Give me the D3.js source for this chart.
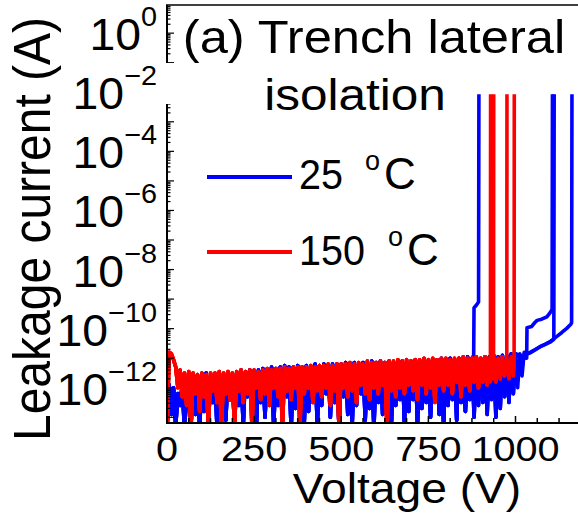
<!DOCTYPE html>
<html><head><meta charset="utf-8">
<script src="https://cdn.jsdelivr.net/npm/d3@7"></script>
<style>html,body{margin:0;padding:0;background:#fff;}svg{display:block;}</style>
</head><body>
<script>
// ---------- DATA (log10 of leakage current in A) ----------
const noiseStep = 6.25; // V between readings in the noise-floor part of each sweep
// 25 °C noise floor readings from 0 V
const blueNoise = [
 -13.4,-11.9,-12.9,-12.0,-13.3,-12.2,-12.6,-11.9,-13.4,-12.3,-11.8,-13.3,-11.7,-12.9,-11.6,-13.4,
 -11.6,-12.8,-11.5,-13.2,-11.7,-12.5,-11.6,-13.4,-11.5,-12.7,-11.6,-13.1,-11.5,-12.4,-11.6,-13.3,
 -11.5,-12.6,-11.4,-13.3,-11.5,-12.3,-11.4,-12.9,-11.45,-13.4,-11.4,-12.5,-11.35,-13.0,-11.4,-12.4,
 -11.3,-13.3,-11.35,-12.6,-11.3,-12.9,-11.25,-12.3,-11.3,-13.4,-11.3,-12.7,-11.25,-12.2,-11.3,-13.2,
 -11.25,-12.8,-11.3,-12.4,-11.2,-13.3,-11.25,-12.6,-11.2,-12.2,-11.25,-13.0,-11.2,-12.5,-11.2,-13.4,
 -11.2,-12.3,-11.15,-12.9,-11.2,-13.3,-11.15,-12.6,-11.2,-12.2,-11.15,-13.1,-11.2,-12.7,-11.1,-13.4,
 -11.15,-12.5,-11.1,-12.9,-11.15,-12.3,-11.1,-13.3,-11.15,-12.6,-11.1,-12.4,-11.1,-13.2,-11.15,-12.8,
 -11.1,-12.4,-11.05,-13.3,-11.1,-12.7,-11.05,-12.5,-11.1,-13.0,-11.05,-12.3,-11.05,-12.9,-11.0,-13.3,
 -11.05,-12.6,-11.0,-12.4,-11.05,-13.1,-11.0,-12.5,-11.0,-12.8,-10.95,-12.4,-11.0,-13.0,-10.95,-12.6,
 -11.0,-12.5,-10.95,-12.9,-10.95,-12.4,-10.9,-13.0,-10.95,-12.7,-10.9,-12.3,-10.9,-12.5,-10.85,-12.2,
 -10.85,-12.0,-10.85,-11.6,-10.8
];
// 150 °C noise floor readings from 0 V
const redNoise = [
 -13.5,-10.8,-10.85,-11.05,-11.3,-12.0,-11.4,-12.3,-11.5,-12.6,-11.45,-13.4,-11.5,-12.2,-11.55,-12.8,
 -11.5,-12.3,-11.55,-13.4,-11.5,-12.1,-11.5,-12.5,-11.45,-13.3,-11.5,-12.2,-11.45,-12.4,-11.5,-13.4,
 -11.45,-12.1,-11.4,-12.5,-11.45,-12.2,-11.4,-13.3,-11.4,-12.0,-11.45,-12.4,-11.4,-12.2,-11.35,-12.6,
 -11.4,-12.0,-11.35,-12.3,-11.35,-13.4,-11.3,-12.1,-11.35,-12.4,-11.3,-12.0,-11.3,-13.3,-11.3,-12.2,
 -11.3,-12.0,-11.25,-12.5,-11.3,-12.1,-11.25,-12.3,-11.25,-12.0,-11.2,-12.6,-11.25,-12.1,-11.2,-13.4,
 -11.2,-12.0,-11.2,-12.3,-11.15,-12.1,-11.2,-12.5,-11.15,-11.9,-11.2,-12.2,-11.1,-12.4,-11.15,-12.0,
 -11.15,-12.2,-11.1,-11.9,-11.15,-13.4,-11.1,-12.1,-11.1,-12.3,-11.05,-12.0,-11.1,-12.2,-11.05,-11.9,
 -11.1,-12.1,-11.05,-12.4,-11.05,-11.9,-11.0,-12.2,-11.05,-12.0,-11.0,-12.5,-11.05,-11.9,-11.0,-12.1,
 -11.0,-11.9,-11.05,-12.2,-11.0,-11.8,-11.0,-12.3,-10.95,-11.9,-11.0,-12.1,-11.0,-11.8,-10.95,-12.0,
 -11.0,-11.8,-10.95,-11.9,-11.0,-11.7,-10.95,-11.8,-11.0,-11.7,-10.95,-11.6,-11.0,-11.7,-10.95,-11.6
];
// voltage where each sweep leaves the noise floor, and its tail [V, log10 I]
const blueEnds = [875, 1025, 1000, 1006];
const blueTail1 = [[880,-10.9],[881,-9.3],[888,-9.2],[894,-9.1],[895,-2.07]];
const blueTail2 = [[1032,-11.0],[1033,-9.97],[1046,-9.93],[1055,-9.8],[1062,-9.72],[1075,-9.68],[1090,-9.6],[1100,-9.45],[1105,-9.35],[1106,-2.07]];
const blueTail3 = [[1012,-10.95],[1025,-10.9],[1042,-10.82],[1056,-10.72],[1070,-10.61],[1085,-10.53],[1099,-10.44],[1118,-10.27],[1133,-10.13],[1147,-9.99],[1158,-9.86],[1161,-9.8],[1162,-2.07]];
const blueTail4 = [[1018,-10.92],[1042,-10.8],[1070,-10.62],[1099,-10.46],[1110,-10.36],[1111,-2.07]];
const redEnds = [925, 931, 969, 994];
const redTail1 = [[928,-11.8],[928.5,-2.07]];
const redTail2 = [[937,-11.7],[937.5,-2.07]];
const redTail3 = [[975,-11.4],[975.5,-2.07]];
const redTail4 = [[996,-11.3],[996.5,-2.07]];

const xTickValues = [0, 250, 500, 750, 1000];
const xMinorStep = 62.5;
const yLabelExps = [0, -2, -4, -6, -8, -10, -12];
const legendLabels = ["25", "150"];
const legendColors = ["#0000ff", "#ff0000"];

// ---------- CHART ----------
const W = 578, H = 516;
const FONT = "'Liberation Sans', Arial, Helvetica, sans-serif";
const svg = d3.select("body").append("svg").attr("width", W).attr("height", H)
  .style("font-family", FONT);

const pL = 167, pR = 578.5, pT = 5, pB = 423;
const x = d3.scaleLinear().domain([0, 1180]).range([pL, pL + 1180 * 0.3485]);
const y = d3.scaleLog().domain([1e-13, 1e1]).range([417.3, 3.6]);

function sweep(noise, end, tail) {
  const pts = noise.map((e, i) => [i * noiseStep, e]).filter(p => p[0] <= end);
  return pts.concat(tail);
}
const line = d3.line().x(d => x(d[0])).y(d => y(Math.pow(10, d[1])));

svg.append("clipPath").attr("id", "clip").append("rect")
  .attr("x", pL).attr("y", pT).attr("width", pR - pL).attr("height", pB - pT);
const plot = svg.append("g").attr("clip-path", "url(#clip)");

const blueSweeps = [
  sweep(blueNoise, blueEnds[0], blueTail1),
  sweep(blueNoise, blueEnds[1], blueTail2),
  sweep(blueNoise, blueEnds[2], blueTail3),
  sweep(blueNoise, blueEnds[3], blueTail4)
];
const redSweeps = [
  sweep(redNoise, redEnds[0], redTail1),
  sweep(redNoise, redEnds[1], redTail2),
  sweep(redNoise, redEnds[2], redTail3),
  sweep(redNoise, redEnds[3], redTail4)
];
[[blueSweeps, legendColors[0]], [redSweeps, legendColors[1]]].forEach(([set, col]) => {
  set.forEach(s => plot.append("path").attr("d", line(s)).attr("fill", "none")
    .attr("stroke", col).attr("stroke-width", 3.6).attr("stroke-linejoin", "round"));
});

// frame
const ax = svg.append("g").attr("stroke", "#000").attr("fill", "none");
ax.append("line").attr("x1", pL).attr("x2", pL).attr("y1", pT).attr("y2", pB).attr("stroke-width", 2);
ax.append("line").attr("x1", pL - 1).attr("x2", pR).attr("y1", pT).attr("y2", pT).attr("stroke-width", 1.5);
ax.append("line").attr("x1", pL - 1).attr("x2", pR).attr("y1", pB).attr("y2", pB).attr("stroke-width", 2);

// y ticks (inward)
for (let e = -13; e <= 0; e++) {
  for (let k = 1; k <= 9; k++) {
    const v = k * Math.pow(10, e);
    const yy = y(v);
    if (yy < pT || yy > pB) continue;
    ax.append("line").attr("x1", pL).attr("x2", pL + (k === 1 ? 7 : 3.5))
      .attr("y1", yy).attr("y2", yy).attr("stroke-width", 1.2);
  }
}
// x ticks (inward)
for (let v = 0; v <= 1180; v += xMinorStep) {
  const major = xTickValues.includes(v);
  ax.append("line").attr("x1", x(v)).attr("x2", x(v)).attr("y1", pB).attr("y2", pB - (major ? 7 : 5))
    .attr("stroke-width", 1.5);
}

// white box hiding part of the axis behind the title
svg.append("rect").attr("x", 160).attr("y", 63).attr("width", 20).attr("height", 41).attr("fill", "#fff");

function stext(px, py, sx, anchor, size) {
  return svg.append("g").attr("transform", `translate(${px},${py}) scale(${sx},1)`)
    .append("text").attr("text-anchor", anchor).attr("font-size", size).attr("fill", "#000");
}

// y tick labels
yLabelExps.forEach(e => {
  const t = stext(157, y(Math.pow(10, e)) + 17, 1.03, "end", 45);
  t.append("tspan").text("10");
  t.append("tspan").attr("font-size", 28).attr("dy", -24).text(String(e).replace("-", "\u2212"));
});
// x tick labels
xTickValues.forEach(v => {
  stext(x(v), 461, 1.1, "middle", 36).text(String(v));
});
// axis titles
stext(407, 503, 1.1, "middle", 42).text("Voltage (V)");
svg.append("g").attr("transform", `translate(50,229) scale(1.07,1) rotate(-90)`)
  .append("text").attr("text-anchor", "middle").attr("font-size", 48).text("Leakage current (A)");

// panel title
stext(374, 53, 1.1, "middle", 46).text("(a) Trench lateral");
stext(355, 110, 1.1, "middle", 45).text("isolation");

// legend
const legendRows = [{ly: 177, ox: 365, cx: 384}, {ly: 252, ox: 388, cx: 407}];
legendLabels.forEach((lab, i) => {
  const r = legendRows[i];
  svg.append("line").attr("x1", 207).attr("x2", 292).attr("y1", r.ly).attr("y2", r.ly)
    .attr("stroke", legendColors[i]).attr("stroke-width", 4);
  const base = r.ly + 12 + (i ? 1 : 0);
  svg.append("g").attr("transform", `translate(299,${base}) scale(0.92,1)`)
    .append("text").attr("font-size", 43).attr("fill", "#000").text(lab);
  svg.append("text").attr("x", r.ox).attr("y", base - 19).attr("font-size", 27).text("o");
  svg.append("text").attr("x", r.cx).attr("y", base).attr("font-size", 44).text("C");
});
</script>
</body></html>
